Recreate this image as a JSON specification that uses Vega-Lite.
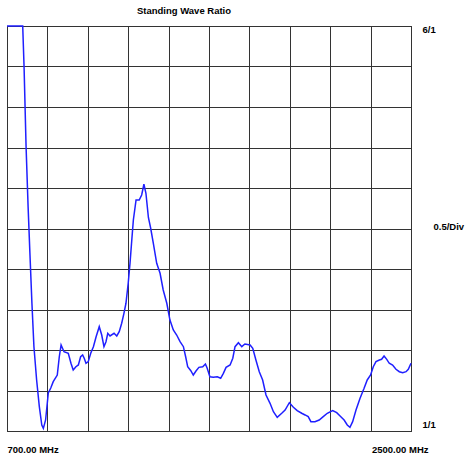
{
  "$schema": "https://vega.github.io/schema/vega-lite/v6.json",
  "width": 404,
  "height": 405,
  "autosize": {"type": "none"},
  "padding": {"left": 7, "top": 26, "right": 56, "bottom": 28},
  "background": "white",
  "title": {
    "text": "Standing Wave Ratio",
    "font": "Liberation Sans",
    "fontSize": 9.5,
    "fontWeight": "bold",
    "color": "#000",
    "anchor": "middle",
    "dx": -25,
    "offset": 8
  },
  "config": {
    "view": {"stroke": "#000", "strokeWidth": 1},
    "axis": {
      "labelFont": "Liberation Sans",
      "labelFontSize": 9.5,
      "labelFontWeight": "bold",
      "labelColor": "#000",
      "titleFont": "Liberation Sans",
      "titleFontSize": 9.5,
      "titleFontWeight": "bold",
      "titleColor": "#000",
      "domain": false,
      "ticks": false,
      "grid": true,
      "gridColor": "#333",
      "gridOpacity": 1,
      "gridWidth": 1,
      "labelOverlap": false,
      "labelFlush": false,
      "labelBound": false
    }
  },
  "data": {
    "values": [
      {"f": 700, "swr": 6.0},
      {"f": 770, "swr": 6.0},
      {"f": 776, "swr": 5.50},
      {"f": 785, "swr": 4.51},
      {"f": 794, "swr": 3.77},
      {"f": 802, "swr": 3.20},
      {"f": 811, "swr": 2.58},
      {"f": 820, "swr": 2.04},
      {"f": 832, "swr": 1.63},
      {"f": 844, "swr": 1.30},
      {"f": 855, "swr": 1.074},
      {"f": 862, "swr": 1.033},
      {"f": 872, "swr": 1.136},
      {"f": 884, "swr": 1.469},
      {"f": 895, "swr": 1.531},
      {"f": 906, "swr": 1.609},
      {"f": 924, "swr": 1.691},
      {"f": 933, "swr": 1.917},
      {"f": 941, "swr": 2.062},
      {"f": 954, "swr": 1.979},
      {"f": 973, "swr": 1.959},
      {"f": 985, "swr": 1.836},
      {"f": 995, "swr": 1.753},
      {"f": 1007, "swr": 1.794},
      {"f": 1018, "swr": 1.815},
      {"f": 1028, "swr": 1.917},
      {"f": 1037, "swr": 1.938},
      {"f": 1044, "swr": 1.898},
      {"f": 1052, "swr": 1.836},
      {"f": 1062, "swr": 1.856},
      {"f": 1073, "swr": 1.959},
      {"f": 1085, "swr": 2.041},
      {"f": 1097, "swr": 2.164},
      {"f": 1111, "swr": 2.288},
      {"f": 1122, "swr": 2.185},
      {"f": 1132, "swr": 2.041},
      {"f": 1141, "swr": 2.103},
      {"f": 1149, "swr": 2.206},
      {"f": 1159, "swr": 2.173},
      {"f": 1177, "swr": 2.206},
      {"f": 1189, "swr": 2.173},
      {"f": 1200, "swr": 2.226},
      {"f": 1211, "swr": 2.330},
      {"f": 1221, "swr": 2.453},
      {"f": 1230, "swr": 2.577},
      {"f": 1240, "swr": 2.824},
      {"f": 1248, "swr": 3.070},
      {"f": 1256, "swr": 3.358},
      {"f": 1263, "swr": 3.605},
      {"f": 1275, "swr": 3.852},
      {"f": 1289, "swr": 3.852},
      {"f": 1300, "swr": 3.914},
      {"f": 1310, "swr": 4.046},
      {"f": 1319, "swr": 3.935},
      {"f": 1330, "swr": 3.636},
      {"f": 1340, "swr": 3.506},
      {"f": 1352, "swr": 3.317},
      {"f": 1367, "swr": 3.070},
      {"f": 1382, "swr": 2.947},
      {"f": 1396, "swr": 2.741},
      {"f": 1412, "swr": 2.577},
      {"f": 1426, "swr": 2.370},
      {"f": 1441, "swr": 2.247},
      {"f": 1456, "swr": 2.185},
      {"f": 1471, "swr": 2.103},
      {"f": 1486, "swr": 2.041},
      {"f": 1496, "swr": 1.917},
      {"f": 1505, "swr": 1.794},
      {"f": 1519, "swr": 1.744},
      {"f": 1530, "swr": 1.691},
      {"f": 1542, "swr": 1.741},
      {"f": 1555, "swr": 1.786},
      {"f": 1572, "swr": 1.794},
      {"f": 1584, "swr": 1.827},
      {"f": 1592, "swr": 1.774},
      {"f": 1604, "swr": 1.670},
      {"f": 1619, "swr": 1.663},
      {"f": 1637, "swr": 1.670},
      {"f": 1652, "swr": 1.651},
      {"f": 1664, "swr": 1.712},
      {"f": 1676, "swr": 1.786},
      {"f": 1694, "swr": 1.815},
      {"f": 1706, "swr": 1.898},
      {"f": 1716, "swr": 2.041},
      {"f": 1731, "swr": 2.090},
      {"f": 1746, "swr": 2.041},
      {"f": 1760, "swr": 2.074},
      {"f": 1783, "swr": 2.062},
      {"f": 1795, "swr": 2.021},
      {"f": 1809, "swr": 1.877},
      {"f": 1824, "swr": 1.732},
      {"f": 1839, "swr": 1.630},
      {"f": 1854, "swr": 1.444},
      {"f": 1872, "swr": 1.342},
      {"f": 1887, "swr": 1.238},
      {"f": 1904, "swr": 1.169},
      {"f": 1924, "swr": 1.219},
      {"f": 1939, "swr": 1.259},
      {"f": 1958, "swr": 1.349},
      {"f": 1976, "swr": 1.293},
      {"f": 1993, "swr": 1.251},
      {"f": 2013, "swr": 1.219},
      {"f": 2028, "swr": 1.198},
      {"f": 2042, "swr": 1.177},
      {"f": 2054, "swr": 1.115},
      {"f": 2072, "swr": 1.115},
      {"f": 2091, "swr": 1.136},
      {"f": 2109, "swr": 1.177},
      {"f": 2127, "swr": 1.219},
      {"f": 2151, "swr": 1.251},
      {"f": 2169, "swr": 1.226},
      {"f": 2184, "swr": 1.185},
      {"f": 2202, "swr": 1.136},
      {"f": 2216, "swr": 1.074},
      {"f": 2228, "swr": 1.046},
      {"f": 2240, "swr": 1.115},
      {"f": 2255, "swr": 1.259},
      {"f": 2273, "swr": 1.404},
      {"f": 2291, "swr": 1.527},
      {"f": 2305, "swr": 1.630},
      {"f": 2320, "swr": 1.691},
      {"f": 2332, "swr": 1.794},
      {"f": 2344, "swr": 1.856},
      {"f": 2359, "swr": 1.877},
      {"f": 2369, "swr": 1.885},
      {"f": 2380, "swr": 1.926},
      {"f": 2392, "swr": 1.885},
      {"f": 2403, "swr": 1.836},
      {"f": 2418, "swr": 1.815},
      {"f": 2433, "swr": 1.762},
      {"f": 2448, "swr": 1.732},
      {"f": 2463, "swr": 1.720},
      {"f": 2478, "swr": 1.732},
      {"f": 2488, "swr": 1.762},
      {"f": 2500, "swr": 1.836}
    ]
  },
  "mark": {"type": "line", "color": "#1f1fff", "strokeWidth": 1.5, "clip": false},
  "encoding": {
    "x": {
      "field": "f",
      "type": "quantitative",
      "scale": {"domain": [700, 2500], "nice": false, "zero": false},
      "axis": {
        "title": null,
        "values": [700, 880, 1060, 1240, 1420, 1600, 1780, 1960, 2140, 2320, 2500],
        "labelExpr": "datum.value == 700 ? '700.00 MHz' : (datum.value == 2500 ? '2500.00 MHz' : '')",
        "labelAlign": {"condition": {"test": "datum.value == 700", "value": "left"}, "value": "right"},
        "labelOffset": {"condition": {"test": "datum.value == 700", "value": 0}, "value": 17},
        "labelBaseline": "middle",
        "labelPadding": 18
      }
    },
    "y": {
      "field": "swr",
      "type": "quantitative",
      "scale": {"domain": [1, 6], "nice": false, "zero": false},
      "axis": {
        "orient": "right",
        "values": [1, 1.5, 2, 2.5, 3, 3.5, 4, 4.5, 5, 5.5, 6],
        "labelExpr": "datum.value == 6 ? '6/1' : (datum.value == 1 ? '1/1' : '')",
        "labelAlign": "left",
        "labelBaseline": "middle",
        "labelOffset": {"condition": {"test": "datum.value == 6", "value": 3}, "value": -7},
        "labelPadding": 11,
        "title": "0.5/Div",
        "titleAngle": 0,
        "titleAlign": "left",
        "titleBaseline": "middle",
        "titleX": 22,
        "titleY": 200
      }
    }
  }
}
